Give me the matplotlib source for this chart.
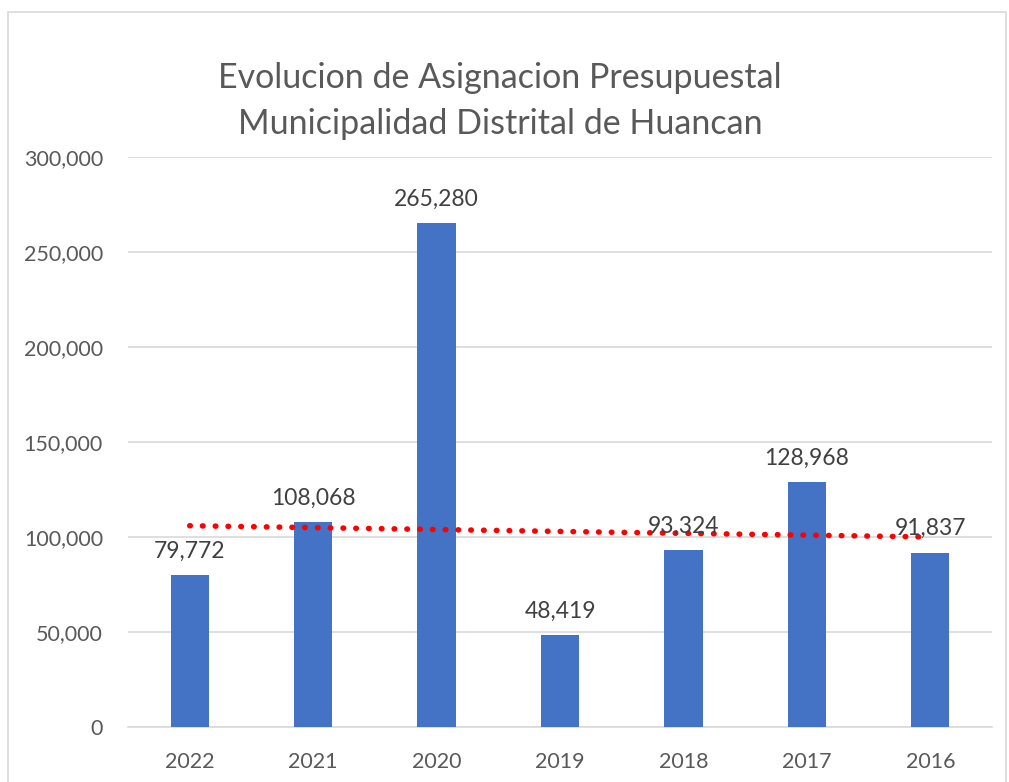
import numpy as np
import matplotlib
matplotlib.use("Agg")
import matplotlib.pyplot as plt
from matplotlib.patches import Rectangle

years = ["2022", "2021", "2020", "2019", "2018", "2017", "2016"]
values = [79772, 108068, 265280, 48419, 93324, 128968, 91837]
yticks = [0, 50000, 100000, 150000, 200000, 250000, 300000]
title = "Evolucion de Asignacion Presupuestal\nMunicipalidad Distrital de Huancan"

plt.rcParams['font.family'] = ['Lato', 'DejaVu Sans']

W, H = 1009, 782
fig = plt.figure(figsize=(W / 100, H / 100), dpi=100)
# chart border
fig.patches.append(Rectangle((8 / W, -0.01), (1006 - 8) / W, (H - 12) / H + 0.01,
                             transform=fig.transFigure, fill=False,
                             edgecolor="#d9d9d9", linewidth=1.2))

left, right, top, bottom = 128, 992, 157, 727
ax = fig.add_axes([left / W, 1 - bottom / H, (right - left) / W, (bottom - top) / H])

x = np.arange(len(years))
ax.bar(x, values, width=0.31, color="#4472c4", zorder=3)

# exponential trendline (Excel-style)
coef = np.polyfit(x + 1, np.log(values), 1)
xt = np.linspace(0, 6, 200)
yt = np.exp(np.polyval(coef, xt + 1))
ax.plot(xt, yt, color="#ff0000", linestyle=(0, (0.1, 2.2)), linewidth=4,
        dash_capstyle="round", zorder=4)

for xi, v in zip(x, values):
    ax.text(xi, v + 7000, f"{v:,}", ha="center", va="bottom",
            fontsize=16.5, color="#404040", zorder=5)

ax.set_xlim(-0.5, len(years) - 0.5)
ax.set_ylim(0, 300000)
ax.set_yticks(yticks)
ax.set_yticklabels([f"{t:,}" for t in yticks])
ax.set_xticks(x)
ax.set_xticklabels(years)
ax.tick_params(axis="both", length=0, labelsize=15.5, labelcolor="#595959")
ax.tick_params(axis="x", pad=18)
ax.tick_params(axis="y", pad=18)
ax.grid(axis="y", color="#d9d9d9", linewidth=1.2, zorder=0)
for s in ["top", "right", "left"]:
    ax.spines[s].set_visible(False)
ax.spines["bottom"].set_color("#d9d9d9")
ax.spines["bottom"].set_linewidth(1.2)

fig.text(500 / W, 1 - 101 / H, title, ha="center", va="center",
         fontsize=24.5, color="#595959", linespacing=1.55)

fig.savefig("out.png", dpi=100)
